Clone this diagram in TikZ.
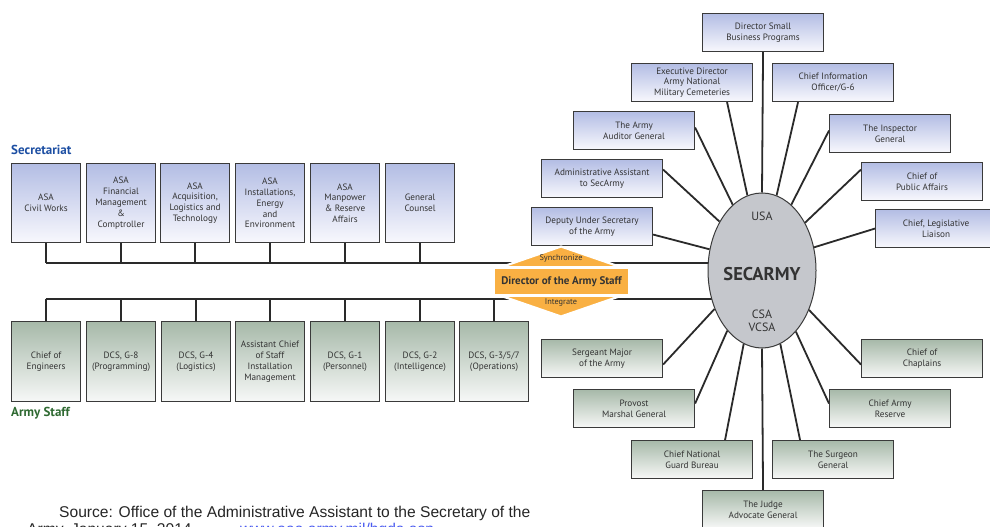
\documentclass[tikz,border=0pt]{standalone}
\usepackage{fontspec}
\setmainfont{PT Sans}
\newfontfamily\srcfont{Liberation Sans}
\usetikzlibrary{shapes.geometric,backgrounds}
\definecolor{boxline}{HTML}{3A3A3A}
\definecolor{linecol}{HTML}{2A2A2A}
\definecolor{blueTop}{HTML}{B3BDE4}
\definecolor{blueBot}{HTML}{F8F8FD}
\definecolor{greenTop}{HTML}{A7B9A9}
\definecolor{greenBot}{HTML}{F7F8F7}
\definecolor{txt}{HTML}{333333}
\definecolor{dasorange}{HTML}{F9B043}
\definecolor{ellfill}{HTML}{C5C7CC}
\definecolor{secblue}{HTML}{1D4FA3}
\definecolor{armygreen}{HTML}{2F6A32}
\definecolor{linkblue}{HTML}{4A5BF0}
\tikzset{
  basebox/.style={draw=boxline, line width=1.1pt, inner sep=1pt, align=center,
    text=txt, font=\fontsize{9.2}{10.8}\selectfont, anchor=north west},
  secbox/.style={basebox, top color=blueTop, bottom color=blueBot,
    minimum width=69pt, minimum height=79pt},
  staffbox/.style={basebox, top color=greenTop, bottom color=greenBot,
    minimum width=69pt, minimum height=80pt},
  fanblue/.style={basebox, top color=blueTop, bottom color=blueBot,
    minimum width=121pt, minimum height=38pt},
  fangreen/.style={basebox, top color=greenTop, bottom color=greenBot,
    minimum width=121pt, minimum height=38pt},
  bus/.style={draw=linecol, line width=1.4pt},
  fanline/.style={draw=linecol, line width=1.8pt},
  ell/.style={font=\fontsize{12}{12.5}\selectfont, text=txt, align=center},
}
\begin{document}
\begin{tikzpicture}[x=1pt,y=-1pt]
\useasboundingbox (0,0) rectangle (990,527);

% labels
\node[anchor=west, font=\bfseries\fontsize{13}{15}\selectfont, text=secblue, inner sep=0] (lsec) at (11,150) {Secretariat};
\node[anchor=west, font=\bfseries\fontsize{13}{15}\selectfont, text=armygreen, inner sep=0] (lstaff) at (11,413) {Army Staff};

% Secretariat boxes
\node[secbox] (s1) at (11,163) {ASA\\Civil Works};
\node[secbox] (s2) at (86,163) {ASA\\Financial\\Management\\\&\\Comptroller};
\node[secbox] (s3) at (160,163) {ASA\\Acquisition,\\Logistics and\\Technology};
\node[secbox] (s4) at (235,163) {ASA\\Installations,\\Energy\\and\\Environment};
\node[secbox] (s5) at (310,163) {ASA\\Manpower\\\& Reserve\\Affairs};
\node[secbox] (s6) at (385,163) {General\\Counsel};

% Army Staff boxes
\node[staffbox] (a1) at (11,321) {Chief of\\Engineers};
\node[staffbox] (a2) at (86,321) {DCS, G-8\\(Programming)};
\node[staffbox] (a3) at (161,321) {DCS, G-4\\(Logistics)};
\node[staffbox] (a4) at (235,321) {Assistant Chief\\of Staff\\Installation\\Management};
\node[staffbox] (a5) at (310,321) {DCS, G-1\\(Personnel)};
\node[staffbox] (a6) at (385,321) {DCS, G-2\\(Intelligence)};
\node[staffbox] (a7) at (459,321) {DCS, G-3/5/7\\(Operations)};

% SECARMY ellipse
\node[ellipse, draw=boxline, line width=1pt, fill=ellfill, minimum width=108pt, minimum height=155pt, inner sep=0] (sec) at (762,270.5) {};
\node[ell] (usa) at (762,216) {USA};
\node[font=\bfseries\fontsize{18.5}{20}\selectfont, text=txt] (secl) at (762,274) {SECARMY};
\node[ell] (csa) at (762,321) {CSA\\VCSA};

% fan boxes (upper, blue)
\node[fanblue] (dsbp) at (702,13) {Director Small\\Business Programs};
\node[fanblue] (exec) at (631,63) {Executive Director\\Army National\\Military Cemeteries};
\node[fanblue] (cio) at (772,63) {Chief Information\\Officer/G-6};
\node[fanblue] (aud) at (573,111) {The Army\\Auditor General};
\node[fanblue] (ig) at (829,114) {The Inspector\\General};
\node[fanblue] (adm) at (541,159) {Administrative Assistant\\to SecArmy};
\node[fanblue] (pa) at (861,162) {Chief of\\Public Affairs};
\node[fanblue] (dep) at (531,207) {Deputy Under Secretary\\of the Army};
\node[fanblue] (ll) at (875,209) {Chief, Legislative\\Liaison};

% fan boxes (lower, green)
\node[fangreen] (sm) at (541,339) {Sergeant Major\\of the Army};
\node[fangreen] (ch) at (861,339) {Chief of\\Chaplains};
\node[fangreen] (pm) at (573,389) {Provost\\Marshal General};
\node[fangreen] (ar) at (829,389) {Chief Army\\Reserve};
\node[fangreen] (ngb) at (631,440) {Chief National\\Guard Bureau};
\node[fangreen] (sg) at (772,440) {The Surgeon\\General};
\node[fangreen] (jag) at (702,490) {The Judge\\Advocate General};

% Director of the Army Staff
\filldraw[fill=dasorange, draw=white, line width=2.2pt]
  (561,246.5) -- (619,266.5) -- (619,296.5) -- (561,316.5) -- (503,296.5) -- (503,266.5) -- cycle;
\node[fill=dasorange, draw=white, line width=2.2pt, minimum width=136pt, minimum height=28pt, inner sep=0, font=\bfseries\fontsize{11}{12}\selectfont, text=txt] (das) at (561.5,281.5) {Director of the Army Staff};
\node[font=\fontsize{8.3}{9}\selectfont, text=txt, inner sep=0] (sync) at (561,258.5) {Synchronize};
\node[font=\fontsize{8.3}{9}\selectfont, text=txt, inner sep=0] (integ) at (561,302.5) {Integrate};

% connectors (behind)
\begin{scope}[on background layer]
\fill[white] (0,0) rectangle (990,527);
\coordinate (sbus) at (45.5,263);
\coordinate (abus) at (45.5,299);
\draw[bus] (sbus) -- (sbus -| sec.center);
\draw[bus] (abus) -- (abus -| sec.center);
\foreach \n in {s1,s2,s3,s4,s5,s6} \draw[bus] (\n.south) -- (\n.south |- sbus);
\foreach \n in {a1,a2,a3,a4,a5,a6,a7} \draw[bus] (\n.north) -- (\n.north |- abus);

\draw[fanline] (dsbp.south) -- (sec.90);
\draw[fanline] ([xshift=35pt]exec.south) -- (sec.101);
\draw[fanline] ([xshift=-35pt]cio.south) -- (sec.79);
\draw[fanline] ([yshift=3pt]aud.east) -- (sec.114);
\draw[fanline] ([yshift=3pt]ig.west) -- (sec.66);
\draw[fanline] ([yshift=9pt]adm.east) -- (sec.131);
\draw[fanline] ([yshift=12pt]pa.west) -- (sec.48);
\draw[fanline] ([yshift=-8pt]dep.east) -- (sec.158);
\draw[fanline] (ll.west) -- (sec.24);

\draw[fanline] ([yshift=-6pt]sm.east) -- (sec.219);
\draw[fanline] ([yshift=-6pt]ch.west) -- (sec.320);
\draw[fanline] ([yshift=5pt]pm.east) -- (sec.240);
\draw[fanline] ([yshift=5pt]ar.west) -- (sec.299);
\draw[fanline] ([xshift=33pt]ngb.north) -- (sec.256);
\draw[fanline] ([xshift=-33pt]sg.north) -- (sec.284);
\draw[fanline] (jag.north) -- (sec.270);
\end{scope}

% source text
\node[anchor=base west, inner sep=0, font=\srcfont\fontsize{15.6}{17}\selectfont, text=black!85] (src1) at (59,517) {Source: Office of the Administrative Assistant to the Secretary of the};
\node[anchor=base west, inner sep=0, font=\srcfont\fontsize{15.6}{17}\selectfont, text=black!85] (src2) at (27,534) {Army, January 15, 2014,};
\node[anchor=base west, inner sep=0, font=\srcfont\fontsize{15.6}{17}\selectfont, text=linkblue] (src3) at (240,534) {www.aaa.army.mil/hqda.asp};
\end{tikzpicture}
\end{document}
